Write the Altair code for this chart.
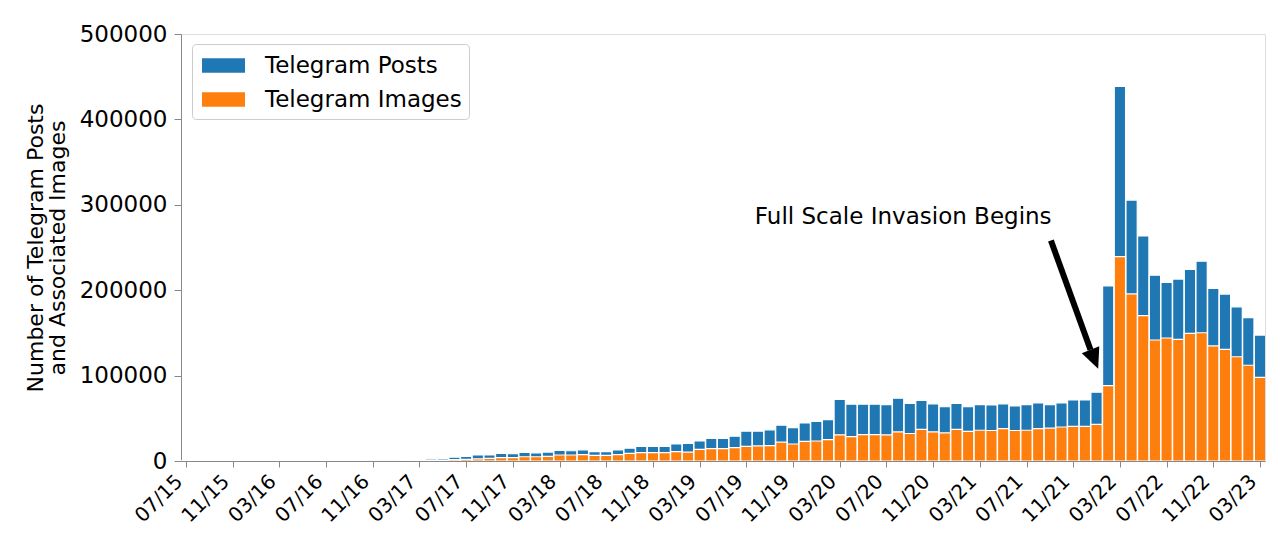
import json
import altair as alt
import pandas as pd

# ---------------- data ----------------
month_idx = list(range(93))  # 0 = 07/2015 ... 92 = 03/2023

posts = [0, 0, 0, 0, 0, 0, 0, 0, 0, 0, 0, 0, 0, 0, 0, 0,
         400, 500, 700, 900,
         2000, 2500, 3000, 4500, 5500, 7000, 7000, 9000, 8500, 10000,
         9500, 10500, 12500, 12000, 13000, 11000, 11000, 13000, 15000, 17000,
         17000, 17000, 20000, 20500, 23500, 26500, 26500, 29000, 35000, 35000,
         36500, 42000, 39000, 44500, 46500, 48500, 72000, 66500, 66500, 66500,
         66000, 73500, 67500, 71000, 67000, 63500, 67500, 63500, 66000, 65600,
         67000, 64500, 66000, 68000, 66000, 68000, 71400, 71400, 80600, 205000,
         438500, 305500, 263500, 217500, 209000, 213000, 224500, 234000, 202000, 195500,
         180500, 168000, 147500]

images = [0, 0, 0, 0, 0, 0, 0, 0, 0, 0, 0, 0, 0, 0, 0, 0,
          200, 250, 300, 400,
          800, 1000, 1200, 1500, 2000, 2500, 3000, 4000, 4000, 5000,
          5000, 5500, 7000, 7000, 7500, 6500, 6500, 7500, 9000, 9700,
          9700, 9700, 11000, 10500, 13700, 14400, 14400, 15600, 17200, 17600,
          18000, 22200, 19900, 23000, 23400, 25000, 30700, 28500, 30800, 30800,
          30500, 34000, 32200, 37100, 34200, 33000, 37100, 34700, 36000, 35700,
          38000, 35700, 36000, 38000, 38500, 39800, 40500, 40500, 43000, 88200,
          239200, 195600, 170200, 141700, 144000, 142500, 149500, 150200, 134700, 130800,
          122100, 112100, 98000]

series_names = ["Telegram Posts", "Telegram Images"]
series_colors = ["#1f77b4", "#ff7f0e"]

tick_values = [0, 4, 8, 12, 16, 20, 24, 28, 32, 36, 40, 44, 48, 52, 56, 60,
               64, 68, 72, 76, 80, 84, 88, 92]
tick_labels = ["07/15", "11/15", "03/16", "07/16", "11/16", "03/17", "07/17", "11/17",
               "03/18", "07/18", "11/18", "03/19", "07/19", "11/19", "03/20", "07/20",
               "11/20", "03/21", "07/21", "11/21", "03/22", "07/22", "11/22", "03/23"]
y_ticks = [0, 100000, 200000, 300000, 400000, 500000]

# annotation (in data space)
annot_text = ["Full Scale Invasion Begins"]
annot_text_pos = [48.73, 277800]
arrow_start = [74.09, 258200]
arrow_end = [77.48, 130200]
arrow_head = [77.81, 119100]

# ---------------- tables ----------------
bars_df = pd.DataFrame({
    "m": month_idx + month_idx,
    "v": posts + images,
    "s": [series_names[0]] * len(month_idx) + [series_names[1]] * len(month_idx),
})
arrow_df = pd.DataFrame({"m": [arrow_start[0]], "v": [arrow_start[1]],
                         "m2": [arrow_end[0]], "v2": [arrow_end[1]]})
head_df = pd.DataFrame({"m": [arrow_head[0]], "v": [arrow_head[1]]})
text_df = pd.DataFrame({"m": [annot_text_pos[0]], "v": [annot_text_pos[1]], "t": annot_text})

FONT = "DejaVu Sans, Verdana, Bitstream Vera Sans, sans-serif"
label_expr = json.dumps(tick_labels) + "[round(datum.value / 4)]"

X = alt.X("m:Q",
          scale=alt.Scale(domain=[0, 92], nice=False, zero=False),
          axis=alt.Axis(values=tick_values, labelExpr=label_expr, title=None, grid=False,
                        labelAngle=-45, labelAlign="right", labelBaseline="top",
                        labelFontSize=20, labelPadding=4, labelOffset=-14, tickSize=6,
                        labelOverlap=False, labelFlush=False))
Y = alt.Y("v:Q", stack=None,
          scale=alt.Scale(domain=[0, 500000], nice=False),
          axis=alt.Axis(values=y_ticks, format="d", grid=False,
                        title=["Number of Telegram Posts", "and Associated Images"],
                        titleFontSize=22, titleFontWeight="normal", titlePadding=10,
                        titleLineHeight=22,
                        labelFontSize=23, labelPadding=7, tickSize=7))

bars = alt.Chart(bars_df).mark_bar(size=11.3, stroke="white", strokeWidth=1.2,
                                    clip=True, opacity=1).encode(
    x=X, y=Y,
    color=alt.Color("s:N",
                    scale=alt.Scale(domain=series_names, range=series_colors),
                    legend=alt.Legend(orient="none", legendX=11, legendY=10, title=None,
                                      symbolType="M-1.5,-0.5L1.5,-0.5L1.5,0.5L-1.5,0.5Z",
                                      symbolSize=822, symbolOffset=10, symbolStrokeWidth=0,
                                      symbolOpacity=1,
                                      labelFontSize=23, labelOffset=27, labelFont=FONT,
                                      labelColor="black", labelLimit=0,
                                      padding=7, rowPadding=7, fillColor="white",
                                      strokeColor="#cccccc", cornerRadius=4)),
    order=alt.Order("s_order:Q"),
).transform_calculate(s_order=f"datum.s === '{series_names[0]}' ? 0 : 1")

arrow = alt.Chart(arrow_df).mark_rule(color="black", strokeWidth=6, strokeCap="butt").encode(
    x=X, y=Y, x2="m2:Q", y2="v2:Q")

head = alt.Chart(head_df).mark_point(shape="M-0.92,-1L0.92,-1L0,1Z", size=420, filled=True,
                                     color="black", opacity=1, angle=338).encode(x=X, y=Y)

text = alt.Chart(text_df).mark_text(align="left", baseline="alphabetic", fontSize=23,
                                    font=FONT, color="black").encode(x=X, y=Y, text="t:N")

chart = alt.layer(bars, arrow, head, text).properties(
    width=1084, height=427,
    autosize=alt.AutoSizeParams(type="none"),
    padding={"left": 173, "top": 26, "right": 6, "bottom": 69},
).configure_view(stroke="#333333", strokeWidth=1.2).configure_axis(
    labelFont=FONT, titleFont=FONT, labelColor="black", titleColor="black",
    domainColor="#333333", tickColor="#333333", domainWidth=1.2, tickWidth=1.2,
).configure(background="white", font=FONT)

chart.save("out.html", embed_options={"renderer": "svg", "actions": False})
